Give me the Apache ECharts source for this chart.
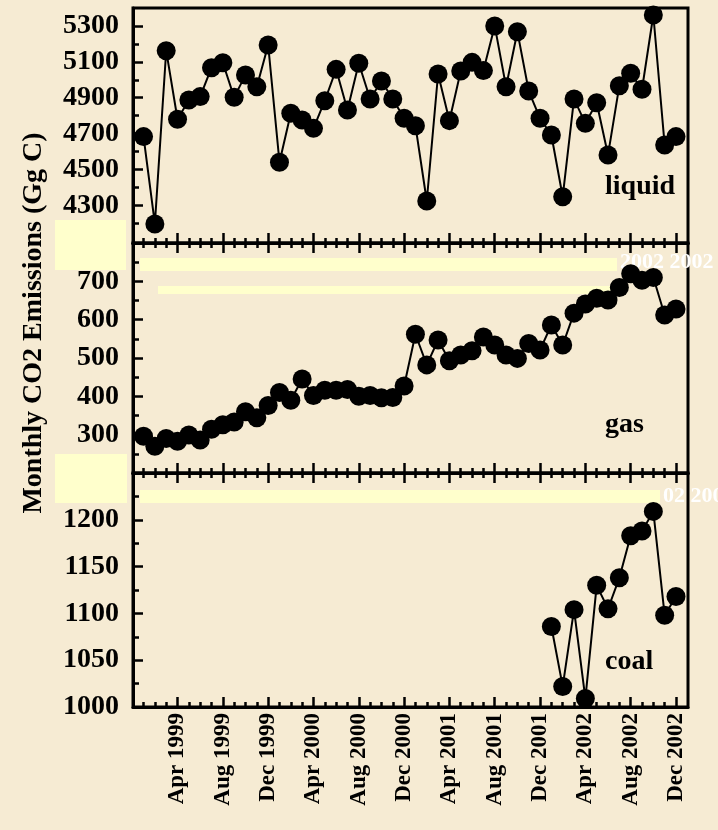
<!DOCTYPE html>
<html>
<head>
<meta charset="utf-8">
<script src="https://cdn.jsdelivr.net/npm/echarts@6/dist/echarts.min.js"></script>
<style>
html,body{margin:0;padding:0;background:#F6EBD3;}
#c{width:718px;height:830px;}
</style>
</head>
<body>
<div id="c"></div>
<script>
// Months Jan 1999 .. Dec 2002 (index 0..47)
const liquid = [4683,4196,5162,4780,4887,4906,5067,5095,4902,5027,4961,5194,
                4540,4813,4776,4729,4883,5058,4831,5092,4893,4993,4893,4785,
                4744,4324,5032,4772,5049,5097,5051,5300,4961,5268,4937,4785,
                4692,4348,4893,4757,4872,4581,4967,5036,4947,5361,4636,4683];
const gas = [296,270,290,283,299,286,314,326,333,360,344,376,
             410,390,445,402,416,416,418,400,402,396,397,427,
             562,482,547,493,508,519,555,534,508,499,538,521,
             586,534,617,641,656,651,684,720,703,710,612,628];
const coal = [null,null,null,null,null,null,null,null,null,null,null,null,
              null,null,null,null,null,null,null,null,null,null,null,null,
              null,null,null,null,null,null,null,null,null,null,null,null,
              1086,1022,1104,1009,1130,1105,1138,1183,1188,1209,1098,1118];
const xTickLabels = ['Apr 1999','Aug 1999','Dec 1999','Apr 2000','Aug 2000','Dec 2000',
                     'Apr 2001','Aug 2001','Dec 2001','Apr 2002','Aug 2002','Dec 2002'];
const xTickMonths = [3,7,11,15,19,23,27,31,35,39,43,47];
const liquidTicks = [4300,4500,4700,4900,5100,5300];
const gasTicks = [300,400,500,600,700];
const coalTicks = [1000,1050,1100,1150,1200];
const panelNames = ['liquid','gas','coal'];
const yTitle = 'Monthly CO2 Emissions (Gg C)';

const FONT = '"Liberation Serif","Times New Roman",serif';
const allMonths = liquid.map((_, i) => i);

const grids = [
  {left:133, right:30, top:8, height:235},
  {left:133, right:30, top:243, height:230},
  {left:133, right:30, top:473, height:234}
].map(g => Object.assign(g, {show:true, borderColor:'#000', borderWidth:3, backgroundColor:'transparent', containLabel:false}));

const XMIN = -0.93, XMAX = 48.06;
const xAxes = [], yAxes = [];
function addX(grid, pos, major, labels) {
  xAxes.push({
    type:'value', gridIndex:grid, position:pos, min:XMIN, max:XMAX,
    axisLine:{show:major, onZero:false, lineStyle:{color:'#000', width:3}},
    axisTick:{show:true, inside:true, length: major?10:5, lineStyle:{color:'#000', width:2.5},
              customValues: major ? xTickMonths : allMonths},
    splitLine:{show:false},
    axisLabel: labels ? {show:true, customValues:xTickMonths, rotate:90, margin:6,
      fontFamily:FONT, fontWeight:'bold', fontSize:23, color:'#000',
      formatter: v => xTickLabels[xTickMonths.indexOf(Math.round(v))] || ''} : {show:false}
  });
  return xAxes.length - 1;
}
function addY(grid, min, max, major, minor) {
  yAxes.push({
    type:'value', gridIndex:grid, position:'left', min:min, max:max,
    axisLine:{show:true, onZero:false, lineStyle:{color:'#000', width:3}},
    axisTick:{show:true, inside:true, length:10, lineStyle:{color:'#000', width:2.5}, customValues:major},
    splitLine:{show:false},
    axisLabel:{show:true, customValues:major, margin:14, fontFamily:FONT, fontWeight:'bold', fontSize:28, color:'#000',
      formatter: v => String(Math.round(v))}
  });
  const idx = yAxes.length - 1;
  yAxes.push({
    type:'value', gridIndex:grid, position:'left', min:min, max:max,
    axisLine:{show:false, onZero:false},
    axisTick:{show:true, inside:true, length:6, lineStyle:{color:'#000', width:2.5}, customValues:minor},
    splitLine:{show:false}, axisLabel:{show:false}
  });
  return idx;
}
function range(a, b, s){ const r=[]; for(let v=a; v<=b; v+=s) r.push(v); return r; }

// liquid
const x0 = addX(0,'bottom',true,false); addX(0,'bottom',false,false);
const y0 = addY(0, 4090, 5400, liquidTicks, range(4200,5200,200));
// gas
const x1 = addX(1,'bottom',true,false); addX(1,'bottom',false,false);
addX(1,'top',true,false); addX(1,'top',false,false);
const y1 = addY(1, 200, 800, gasTicks, range(250,750,100));
// coal
const x2 = addX(2,'bottom',true,true); addX(2,'bottom',false,false);
addX(2,'top',true,false); addX(2,'top',false,false);
const y2 = addY(2, 1000, 1250, coalTicks, range(1025,1225,50));

function mk(data, xi, yi) {
  return {type:'line', xAxisIndex:xi, yAxisIndex:yi, data:data.map((v,i)=>[i,v]),
    symbol:'circle', symbolSize:19, showSymbol:true, connectNulls:false,
    itemStyle:{color:'#000'}, lineStyle:{color:'#000', width:2}, animation:false, z:5};
}

const txt = (x, y, t, extra) => Object.assign({type:'text', x:x, y:y, z:50,
  style:{text:t, fill:'#000', font:'bold 28px ' + FONT, textAlign:'left', textVerticalAlign:'middle'}}, extra||{});

const chart = echarts.init(document.getElementById('c'), null, {renderer:'canvas'});
chart.setOption({
  backgroundColor:'#F6EBD3',
  animation:false,
  grid: grids,
  xAxis: xAxes,
  yAxis: yAxes,
  series: [mk(liquid,x0,y0), mk(gas,x1,y1), mk(coal,x2,y2)],
  graphic: [
    {type:'rect', shape:{x:55,y:220,width:71,height:50}, style:{fill:'#FFFFCC'}, z:1},
    {type:'rect', shape:{x:55,y:454,width:72,height:49}, style:{fill:'#FFFFCC'}, z:1},
    {type:'rect', shape:{x:140,y:258,width:477,height:13}, style:{fill:'#FFFFCC'}, z:1},
    {type:'rect', shape:{x:158,y:286,width:459,height:8}, style:{fill:'#FFFFCC'}, z:1},
    {type:'rect', shape:{x:140,y:490,width:520,height:13}, style:{fill:'#FFFFCC'}, z:1},
    {type:'text', x:620, y:262, z:2, style:{text:'2002 2002', fill:'#FFFFFF', font:'bold 22px ' + FONT, textVerticalAlign:'middle'}},
    {type:'text', x:663, y:496, z:2, style:{text:'02 2002', fill:'#FFFFFF', font:'bold 22px ' + FONT, textVerticalAlign:'middle'}},
    txt(605, 187, panelNames[0]),
    txt(605, 425, panelNames[1]),
    txt(605, 662, panelNames[2]),
    {type:'text', x:34, y:323, rotation:Math.PI/2, z:50,
     style:{text:yTitle, fill:'#000', font:'bold 28px ' + FONT, textAlign:'center', textVerticalAlign:'middle'}}
  ]
});
</script>
</body>
</html>
